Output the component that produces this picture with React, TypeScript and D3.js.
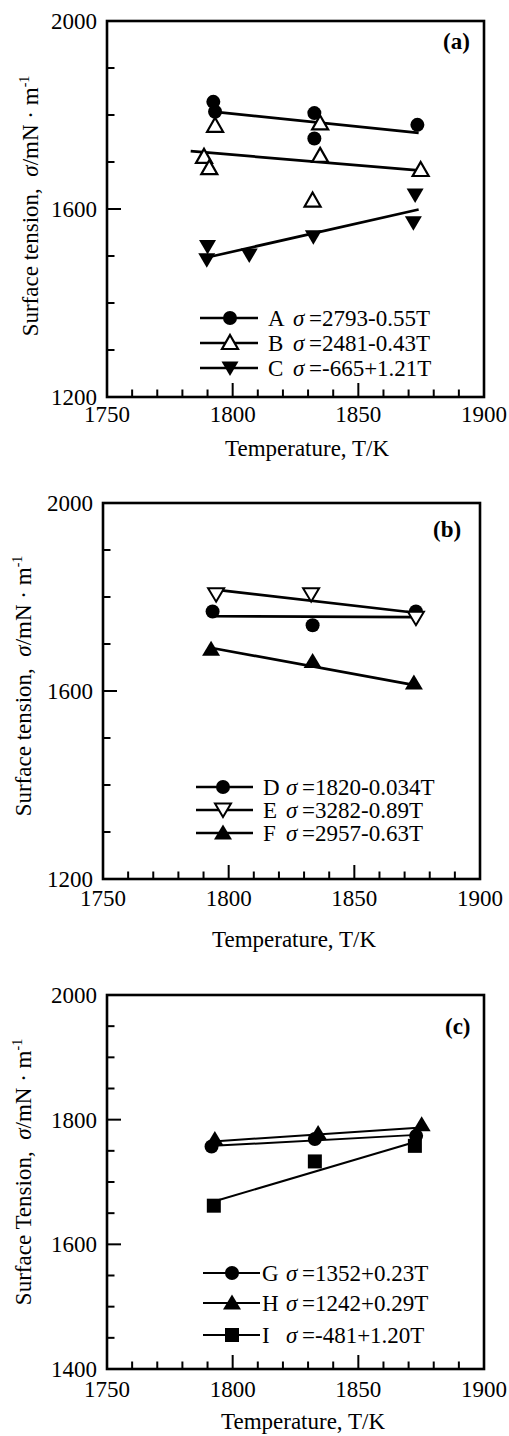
import React from 'react';
import * as d3 from 'd3';

const FONT = '"Liberation Serif", "Times New Roman", Times, serif';

// ---------- shared axis values ----------
const X_DOMAIN = [1750, 1900];
const X_LABELS = [1750, 1800, 1850, 1900];
const Y_LABELS_AB = [1200, 1600, 2000];
const Y_LABELS_C = [1400, 1600, 1800, 2000];

// ---------- panel (a) ----------
const A_T = [1792.3, 1793, 1832.5, 1832.5, 1873.5];
const A_S = [1828, 1807, 1804, 1750, 1779];
const B_T = [1793, 1788.6, 1790.7, 1834.8, 1834.8, 1831.8, 1874.8];
const B_S = [1777, 1711, 1687, 1782, 1713, 1618, 1683];
const C_T = [1790, 1789.7, 1806.6, 1832.1, 1872.6, 1871.9];
const C_S = [1520, 1492, 1502, 1541, 1630, 1571];
const FIT_A = [[1792, 1807], [1874, 1762]];
const FIT_B = [[1783.3, 1723], [1875.2, 1681.5]];
const FIT_C = [[1791, 1498.5], [1874, 1599]];

// ---------- panel (b) ----------
const D_T = [1793.6, 1833.4, 1874.5];
const D_S = [1769, 1740, 1769];
const E_T = [1795, 1832.8, 1874.5];
const E_S = [1805, 1805, 1755];
const F_T = [1793, 1833.4, 1873.7];
const F_S = [1689, 1663, 1617];
const FIT_D = [[1793.5, 1759], [1874.8, 1757]];
const FIT_E = [[1794.5, 1815.5], [1875.2, 1766]];
const FIT_F = [[1793.3, 1691.5], [1874.5, 1612]];

// ---------- panel (c) ----------
const G_T = [1791.6, 1832.7, 1873];
const G_S = [1757, 1769, 1774];
const H_T = [1792.9, 1834, 1875.2];
const H_S = [1768, 1778, 1792];
const I_T = [1792.5, 1832.7, 1872.5];
const I_S = [1662, 1733, 1758];
const FIT_G = [[1792.2, 1758], [1873.2, 1775.6]];
const FIT_H = [[1792.2, 1765], [1875.2, 1787.3]];
const FIT_I = [[1792.5, 1668.7], [1873.2, 1764.9]];

// ---------- legends ----------
const LEG_A = ['A', 'B', 'C'];
const EQ_A = ['=2793-0.55T', '=2481-0.43T', '=-665+1.21T'];
const LEG_B = ['D', 'E', 'F'];
const EQ_B = ['=1820-0.034T', '=3282-0.89T', '=2957-0.63T'];
const LEG_C = ['G', 'H', 'I'];
const EQ_C = ['=1352+0.23T', '=1242+0.29T', '=-481+1.20T'];

type Shape = 'circle' | 'triUpOpen' | 'triDownFilled' | 'triDownOpen' | 'triUpFilled' | 'square';

function Marker({ shape, cx, cy }: { shape: Shape; cx: number; cy: number }) {
  const t = `translate(${cx},${cy})`;
  switch (shape) {
    case 'circle':
      return <circle cx={cx} cy={cy} r={7} fill="#000" />;
    case 'triUpOpen':
      return <path transform={t} d="M0,-8L8,6L-8,6Z" fill="#fff" stroke="#000" strokeWidth={2.2} />;
    case 'triUpFilled':
      return <path transform={t} d="M0,-8.5L9,6.5L-9,6.5Z" fill="#000" />;
    case 'triDownFilled':
      return <path transform={t} d="M0,8L8.5,-6.5L-8.5,-6.5Z" fill="#000" />;
    case 'triDownOpen':
      return <path transform={t} d="M0,7L8,-6.5L-8,-6.5Z" fill="#fff" stroke="#000" strokeWidth={2} />;
    case 'square':
      return <rect x={cx - 7} y={cy - 7} width={14} height={14} fill="#000" />;
  }
}

interface Series { T: number[]; S: number[]; shape: Shape; fit: number[][] }
interface PanelProps {
  box: { l: number; r: number; t: number; b: number };
  yDomain: [number, number];
  yStep: number;
  yLabels: number[];
  series: Series[];
  fitWidth: number;
  legend: { names: string[]; eqs: string[]; lineX: [number, number]; markerX: number; letterX: number; sigmaX: number; eqX: number; rows: number[]; lineWidth: number };
  label: { text: string; x: number; y: number };
  xTitle: { x: number; y: number };
  xLabelY: number;
  yTitle: { text: string; x: number; y: number };
}

function Panel(p: PanelProps) {
  const x = d3.scaleLinear().domain(X_DOMAIN).range([p.box.l, p.box.r]);
  const y = d3.scaleLinear().domain(p.yDomain).range([p.box.b, p.box.t]);
  const line = d3.line<number[]>().x((d) => x(d[0])).y((d) => y(d[1]));
  const xTicks = d3.range(X_DOMAIN[0] + 10, X_DOMAIN[1], 10);
  const yTicks = d3.range(p.yDomain[0] + p.yStep, p.yDomain[1], p.yStep);
  const yMajor = (v: number) => p.yLabels.includes(v);
  const fs = 23;
  return (
    <g fontFamily={FONT} fill="#000">
      {p.series.map((s, i) => (
        <path key={'f' + i} d={line(s.fit) || ''} fill="none" stroke="#000" strokeWidth={p.fitWidth} />
      ))}
      {p.series.map((s, i) =>
        s.T.map((t, j) => <Marker key={'m' + i + '-' + j} shape={s.shape} cx={x(t)} cy={y(s.S[j])} />)
      )}
      <rect x={p.box.l} y={p.box.t} width={p.box.r - p.box.l} height={p.box.b - p.box.t} fill="none" stroke="#000" strokeWidth={2.6} />
      {xTicks.map((t) => (
        <line key={'xt' + t} x1={x(t)} x2={x(t)} y1={p.box.b} y2={p.box.b - (t % 50 === 0 ? 14 : 7.5)} stroke="#000" strokeWidth={2} />
      ))}
      {yTicks.map((v) => (
        <line key={'yt' + v} x1={p.box.l} x2={p.box.l + (yMajor(v) ? 14 : 7.5)} y1={y(v)} y2={y(v)} stroke="#000" strokeWidth={2} />
      ))}
      {X_LABELS.map((t) => (
        <text key={'xl' + t} x={x(t)} y={p.xLabelY} fontSize={fs} textAnchor="middle">{t}</text>
      ))}
      {p.yLabels.map((v) => (
        <text key={'yl' + v} x={p.box.l - 10} y={y(v) + 8} fontSize={fs} textAnchor="end">{v}</text>
      ))}
      <text x={p.xTitle.x} y={p.xTitle.y} fontSize={fs} textAnchor="middle">Temperature, T/K</text>
      <text transform={`translate(${p.yTitle.x},${p.yTitle.y}) rotate(-90)`} fontSize={fs} textAnchor="middle" style={{ whiteSpace: 'pre' }}>
        {p.yTitle.text}
        <tspan fontStyle="italic">σ</tspan>
        <tspan>/mN · m</tspan>
        <tspan fontSize={14} dy={-9}>-1</tspan>
      </text>
      <text x={p.label.x} y={p.label.y} fontSize={fs} fontWeight="bold">{p.label.text}</text>
      {p.legend.names.map((n, i) => {
        const ry = p.legend.rows[i];
        return (
          <g key={'lg' + i}>
            <line x1={p.legend.lineX[0]} x2={p.legend.lineX[1]} y1={ry} y2={ry} stroke="#000" strokeWidth={p.legend.lineWidth} />
            <Marker shape={p.series[i].shape} cx={p.legend.markerX} cy={ry} />
            <text x={p.legend.letterX} y={ry + 8} fontSize={fs}>{n}</text>
            <text x={p.legend.sigmaX} y={ry + 8} fontSize={fs} fontStyle="italic">σ</text>
            <text x={p.legend.eqX} y={ry + 8} fontSize={fs}>{p.legend.eqs[i]}</text>
          </g>
        );
      })}
    </g>
  );
}

export default function App() {
  return (
    <svg width={509} height={1436} style={{ position: 'absolute', left: 0, top: 0, background: '#fff' }}>
      <rect x={0} y={0} width={509} height={1436} fill="#fff" />
      <Panel
        box={{ l: 107, r: 484, t: 21, b: 397 }}
        yDomain={[1200, 2000]}
        yStep={100}
        yLabels={Y_LABELS_AB}
        fitWidth={2.7}
        series={[
          { T: A_T, S: A_S, shape: 'circle', fit: FIT_A },
          { T: B_T, S: B_S, shape: 'triUpOpen', fit: FIT_B },
          { T: C_T, S: C_S, shape: 'triDownFilled', fit: FIT_C },
        ]}
        legend={{ names: LEG_A, eqs: EQ_A, lineX: [200, 258], markerX: 230, letterX: 268, sigmaX: 293, eqX: 309, rows: [318, 343, 368], lineWidth: 2.7 }}
        label={{ text: '(a)', x: 443, y: 49 }}
        xTitle={{ x: 307, y: 456 }}
        xLabelY={422}
        yTitle={{ text: 'Surface tension,  ', x: 38, y: 206 }}
      />
      <Panel
        box={{ l: 103, r: 480, t: 503, b: 879 }}
        yDomain={[1200, 2000]}
        yStep={100}
        yLabels={Y_LABELS_AB}
        fitWidth={2.7}
        series={[
          { T: D_T, S: D_S, shape: 'circle', fit: FIT_D },
          { T: E_T, S: E_S, shape: 'triDownOpen', fit: FIT_E },
          { T: F_T, S: F_S, shape: 'triUpFilled', fit: FIT_F },
        ]}
        legend={{ names: LEG_B, eqs: EQ_B, lineX: [196, 253], markerX: 223, letterX: 263, sigmaX: 286, eqX: 302, rows: [787, 810, 833], lineWidth: 2.7 }}
        label={{ text: '(b)', x: 433, y: 537 }}
        xTitle={{ x: 294, y: 947 }}
        xLabelY={906}
        yTitle={{ text: 'Surface tension,  ', x: 31, y: 686 }}
      />
      <Panel
        box={{ l: 107, r: 484, t: 995, b: 1369 }}
        yDomain={[1400, 2000]}
        yStep={50}
        yLabels={Y_LABELS_C}
        fitWidth={2}
        series={[
          { T: G_T, S: G_S, shape: 'circle', fit: FIT_G },
          { T: H_T, S: H_S, shape: 'triUpFilled', fit: FIT_H },
          { T: I_T, S: I_S, shape: 'square', fit: FIT_I },
        ]}
        legend={{ names: LEG_C, eqs: EQ_C, lineX: [203, 260], markerX: 232, letterX: 262, sigmaX: 286, eqX: 302, rows: [1273, 1303, 1335], lineWidth: 2 }}
        label={{ text: '(c)', x: 445, y: 1034 }}
        xTitle={{ x: 303, y: 1429 }}
        xLabelY={1397}
        yTitle={{ text: 'Surface Tension,  ', x: 31, y: 1172 }}
      />
    </svg>
  );
}
